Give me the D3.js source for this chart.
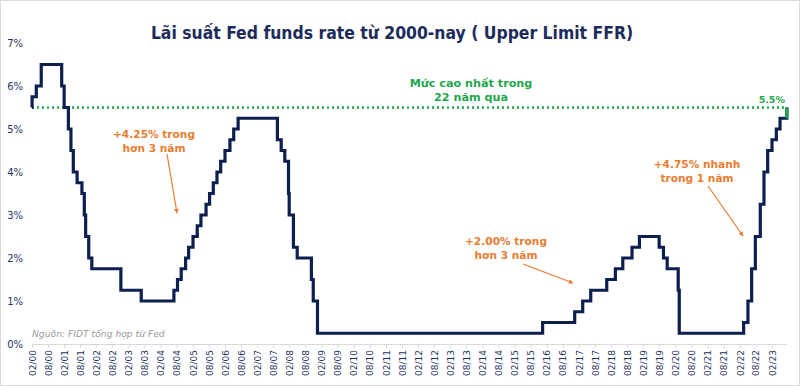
<!DOCTYPE html>
<html>
<head>
<meta charset="utf-8">
<script src="https://cdn.jsdelivr.net/npm/d3@7"></script>
<style>
  html, body { margin: 0; padding: 0; background: #fff; }
  svg { display: block; }
</style>
</head>
<body>
<div id="chart"></div>
<script>
// Fed funds target, upper limit (date of change, new rate %)
var changeDates = [
  "2000-02-01", "2000-02-02", "2000-03-21", "2000-05-16", "2001-01-03", "2001-01-31",
  "2001-03-20", "2001-04-18", "2001-05-15", "2001-06-27", "2001-08-21", "2001-09-17",
  "2001-10-02", "2001-11-06", "2001-12-11", "2002-11-06", "2003-06-25", "2004-06-30",
  "2004-08-10", "2004-09-21", "2004-11-10", "2004-12-14", "2005-02-02", "2005-03-22",
  "2005-05-03", "2005-06-30", "2005-08-09", "2005-09-20", "2005-11-01", "2005-12-13",
  "2006-01-31", "2006-03-28", "2006-05-10", "2006-06-29", "2007-09-18", "2007-10-31",
  "2007-12-11", "2008-01-22", "2008-01-30", "2008-03-18", "2008-04-30", "2008-10-08",
  "2008-10-29", "2008-12-16", "2015-12-16", "2016-12-14", "2017-03-15", "2017-06-14",
  "2017-12-13", "2018-03-21", "2018-06-13", "2018-09-26", "2018-12-19", "2019-07-31",
  "2019-09-18", "2019-10-30", "2020-03-03", "2020-03-15", "2022-03-16", "2022-05-04",
  "2022-06-15", "2022-07-27", "2022-09-21", "2022-11-02", "2022-12-14", "2023-02-01",
  "2023-03-22", "2023-05-03", "2023-07-20"
];
var upperRates = [
  5.50, 5.75, 6.00, 6.50, 6.00, 5.50,
  5.00, 4.50, 4.00, 3.75, 3.50, 3.00,
  2.50, 2.00, 1.75, 1.25, 1.00, 1.25,
  1.50, 1.75, 2.00, 2.25, 2.50, 2.75,
  3.00, 3.25, 3.50, 3.75, 4.00, 4.25,
  4.50, 4.75, 5.00, 5.25, 4.75, 4.50,
  4.25, 3.50, 3.00, 2.25, 2.00, 1.50,
  1.00, 0.25, 0.50, 0.75, 1.00, 1.25,
  1.50, 1.75, 2.00, 2.25, 2.50, 2.25,
  2.00, 1.75, 1.25, 0.25, 0.50, 1.00,
  1.75, 2.50, 3.25, 4.00, 4.50, 4.75,
  5.00, 5.25, 5.50
];
var endDate = "2023-07-21";
var peakRate = 5.5;

var tickLabels = [
  "02/00", "08/00", "02/01", "08/01", "02/02", "08/02", "02/03", "08/03", "02/04", "08/04",
  "02/05", "08/05", "02/06", "08/06", "02/07", "08/07", "02/08", "08/08", "02/09", "08/09",
  "02/10", "08/10", "02/11", "08/11", "02/12", "08/12", "02/13", "08/13", "02/14", "08/14",
  "02/15", "08/15", "02/16", "08/16", "02/17", "08/17", "02/18", "08/18", "02/19", "08/19",
  "02/20", "08/20", "02/21", "08/21", "02/22", "08/22", "02/23"
];
var yTicks = [0, 1, 2, 3, 4, 5, 6, 7];

var annotations = [
  { lines: ["+4.25% trong", "hơn 3 năm"], x: 154, y: 138, from: [167, 154], to: [177, 213] },
  { lines: ["+2.00% trong", "hơn 3 năm"], x: 506, y: 245, from: [523, 264], to: [573, 283] },
  { lines: ["+4.75% nhanh", "trong 1 năm"], x: 697, y: 168, from: [708, 186], to: [743, 236] }
];

var width = 800, height = 386;
var navy = "#0c1f4f", green = "#1fa64c", orange = "#e97c30", labelColor = "#1f3464";
var parse = d3.timeParse("%Y-%m-%d");
var parseTick = d3.timeParse("%m/%y");

var data = changeDates.map(function (d, i) { return { date: parse(d), rate: upperRates[i] }; });
data.push({ date: parse(endDate), rate: upperRates[upperRates.length - 1] });

var svg = d3.select("#chart").append("svg")
  .attr("width", width)
  .attr("height", height);

svg.append("rect")
  .attr("x", 0.5).attr("y", 0.5)
  .attr("width", width - 1).attr("height", height - 1)
  .attr("fill", "#fff")
  .attr("stroke", "#d9d9d9");

var x = d3.scaleTime()
  .domain([parseTick("02/00"), parseTick("02/23")])
  .range([32, 772]);

var y = d3.scaleLinear()
  .domain([0, 7])
  .range([344, 43]);

// title
svg.append("text")
  .attr("x", 392).attr("y", 39)
  .attr("text-anchor", "middle")
  .attr("font-family", "'DejaVu Sans Condensed', 'DejaVu Sans', sans-serif")
  .attr("font-weight", "bold")
  .attr("font-size", 17.4)
  .attr("fill", "#1c2b5a")
  .text("Lãi suất Fed funds rate từ 2000-nay ( Upper Limit FFR)");

// y labels
svg.append("g")
  .selectAll("text")
  .data(yTicks)
  .enter().append("text")
  .attr("x", 23)
  .attr("y", function (d) { return y(d) + 3.5; })
  .attr("text-anchor", "end")
  .attr("font-family", "'DejaVu Sans', sans-serif")
  .attr("font-size", 10)
  .attr("fill", labelColor)
  .text(function (d) { return d + "%"; });

// x axis
var xAxis = d3.axisBottom(x)
  .tickValues(tickLabels.map(parseTick))
  .tickFormat(d3.timeFormat("%m/%y"))
  .tickSize(4)
  .tickSizeOuter(0);

var gx = svg.append("g")
  .attr("transform", "translate(0," + y(0) + ")")
  .call(xAxis);

gx.select(".domain")
  .attr("d", "M" + x.range()[0] + ",0.5H" + x(parse(endDate)))
  .attr("stroke", "#d9d9d9");
gx.selectAll(".tick line").attr("stroke", "#d9d9d9");
gx.selectAll(".tick text")
  .attr("font-family", "'DejaVu Sans', sans-serif")
  .attr("font-size", 9)
  .attr("fill", labelColor)
  .attr("transform", "rotate(-90)")
  .attr("text-anchor", "end")
  .attr("dy", "0.35em")
  .attr("x", -6)
  .attr("y", 0);

// source
svg.append("text")
  .attr("x", 32).attr("y", 337)
  .attr("font-family", "'DejaVu Sans', sans-serif")
  .attr("font-style", "italic")
  .attr("font-size", 9.2)
  .attr("fill", "#9a9a9a")
  .text("Nguồn: FIDT tổng hợp từ Fed");

// 22-year high reference line
svg.append("line")
  .attr("x1", x.range()[0]).attr("x2", x(parse(endDate)))
  .attr("y1", y(peakRate)).attr("y2", y(peakRate))
  .attr("stroke", green)
  .attr("stroke-width", 2.5)
  .attr("stroke-dasharray", "2,3");

// rate line
var line = d3.line()
  .x(function (d) { return x(d.date); })
  .y(function (d) { return y(d.rate); })
  .curve(d3.curveStepAfter);

svg.append("path")
  .datum(data.slice(0, data.length - 1))
  .attr("fill", "none")
  .attr("stroke", navy)
  .attr("stroke-width", 3.2)
  .attr("stroke-linejoin", "miter")
  .attr("d", line);

// last hike highlighted in green
var last = data[data.length - 2];
svg.append("line")
  .attr("x1", x(last.date)).attr("x2", x(last.date))
  .attr("y1", y(upperRates[upperRates.length - 2])).attr("y2", y(last.rate))
  .attr("stroke", green)
  .attr("stroke-width", 3);

// green labels
var greenText = svg.append("text")
  .attr("text-anchor", "middle")
  .attr("font-family", "'DejaVu Sans', sans-serif")
  .attr("font-weight", "bold")
  .attr("font-size", 11.2)
  .attr("fill", green);
greenText.append("tspan").attr("x", 471).attr("y", 87).text("Mức cao nhất trong");
greenText.append("tspan").attr("x", 471).attr("y", 101).text("22 năm qua");

svg.append("text")
  .attr("x", 785).attr("y", 103)
  .attr("text-anchor", "end")
  .attr("font-family", "'DejaVu Sans', sans-serif")
  .attr("font-weight", "bold")
  .attr("font-size", 9.5)
  .attr("fill", green)
  .text(peakRate + "%");

// orange annotations
svg.append("defs").append("marker")
  .attr("id", "arrow")
  .attr("viewBox", "0 0 10 10")
  .attr("refX", 9).attr("refY", 5)
  .attr("markerWidth", 4).attr("markerHeight", 4)
  .attr("orient", "auto")
  .append("path")
  .attr("d", "M0,0L10,5L0,10z")
  .attr("fill", orange);

var ann = svg.append("g")
  .selectAll("g")
  .data(annotations)
  .enter().append("g");

ann.append("text")
  .attr("text-anchor", "middle")
  .attr("font-family", "'DejaVu Sans', sans-serif")
  .attr("font-weight", "bold")
  .attr("font-size", 10.6)
  .attr("fill", orange)
  .each(function (d) {
    var t = d3.select(this);
    d.lines.forEach(function (l, i) {
      t.append("tspan").attr("x", d.x).attr("y", d.y + i * 13.5).text(l);
    });
  });

ann.append("line")
  .attr("x1", function (d) { return d.from[0]; })
  .attr("y1", function (d) { return d.from[1]; })
  .attr("x2", function (d) { return d.to[0]; })
  .attr("y2", function (d) { return d.to[1]; })
  .attr("stroke", orange)
  .attr("stroke-width", 1.2)
  .attr("marker-end", "url(#arrow)");
</script>
</body>
</html>
